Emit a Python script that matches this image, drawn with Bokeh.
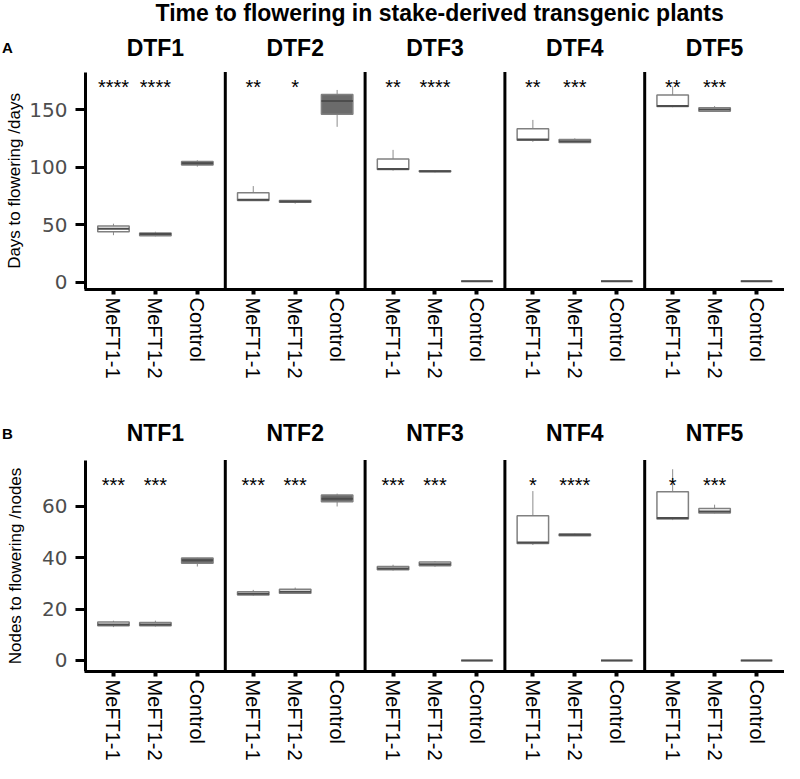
from bokeh.plotting import figure
from bokeh.models import ColumnDataSource, FixedTicker, Range1d
from bokeh.layouts import column
from bokeh.embed import file_html
from bokeh.resources import INLINE
from bokeh.core.properties import value

# ---------------- data ----------------
groups = ["MeFT1-1", "MeFT1-2", "Control"]

dtf_panels = ["DTF1", "DTF2", "DTF3", "DTF4", "DTF5"]
dtf_lower = [[41, 40, 100.5], [71, 68.4, 135], [97, 95.5, 1], [122, 121, 1], [152, 148, 1]]
dtf_q1 = [[44, 40.5, 102], [71.2, 69.5, 146], [98, 96, 1], [123.3, 121.5, 1], [152.6, 148.5, 1]]
dtf_median = [[46.5, 42, 103.4], [71.8, 70.3, 157.5], [98.5, 96.5, 1], [124, 122.5, 1], [153, 150, 1]]
dtf_q3 = [[49, 43, 104.9], [77.8, 71, 163], [107, 97, 1], [133.4, 124, 1], [162.6, 151.5, 1]]
dtf_upper = [[51, 44, 106], [83.6, 71.5, 167], [115, 97.5, 1], [141, 125, 1], [170, 153, 1]]
dtf_stars = [["****", "****"], ["**", "*"], ["**", "****"], ["**", "***"], ["**", "***"]]
dtf_yticks = [0, 50, 100, 150]

ntf_panels = ["NTF1", "NTF2", "NTF3", "NTF4", "NTF5"]
ntf_lower = [[13, 13.2, 36.6], [25.2, 26, 60], [35, 36.5, 0], [45, 48.5, 0], [54.7, 57.3, 0]]
ntf_q1 = [[13.5, 13.5, 37.9], [25.5, 26.2, 61.8], [35.3, 36.9, 0], [45.6, 48.6, 0], [55.1, 57.5, 0]]
ntf_median = [[14, 14, 39], [26, 26.8, 63], [35.8, 37.5, 0], [46, 49, 0], [55.5, 58, 0]]
ntf_q3 = [[15, 14.8, 39.9], [26.8, 27.7, 64.5], [36.6, 38.4, 0], [56.4, 49.3, 0], [65.7, 59.2, 0]]
ntf_upper = [[15.5, 15.5, 40], [27.5, 28.4, 65], [37.3, 38.7, 0], [66, 49.5, 0], [74.5, 60.7, 0]]
ntf_stars = [["***", "***"], ["***", "***"], ["***", "***"], ["*", "****"], ["*", "***"]]
ntf_yticks = [0, 20, 40, 60]

# ---------------- layout constants ----------------
PANEL_W = 10
TICK_OFF = [2, 5, 8]
BOX_W = 2.25
FILLS = ["white", "white", "#6b6b6b"]
FONT = "Liberation Sans"
X_START = -6.08      # room on the left (inside the frame) for the y axis
LETTER_X = -5.58


def make_row(panels, lower, q1, med, q3, upper, stars, yticks, ylabel, letter,
             height, top, yr, sep_top, title_y, star_y, label_standoff, title=None):
    p = figure(width=784, height=height, output_backend="svg", toolbar_location=None,
               min_border_left=0, min_border_right=0, min_border_top=top,
               min_border_bottom=0, x_range=Range1d(X_START, 5 * PANEL_W),
               y_range=Range1d(*yr), title=title)
    p.outline_line_color = None
    p.xgrid.visible = False
    p.ygrid.visible = False
    p.background_fill_color = "white"
    p.border_fill_color = "white"
    if title:
        p.title.align = "left"
        p.title.offset = 155
        p.title.text_font = FONT
        p.title.text_font_size = "23px"
        p.title.text_font_style = "bold"
        p.title.text_color = "black"
        p.title.standoff = -6

    xs, los, q1s, meds, q3s, ups, fills = [], [], [], [], [], [], []
    for i in range(len(panels)):
        for j in range(len(groups)):
            xs.append(PANEL_W * i + TICK_OFF[j])
            los.append(lower[i][j]); q1s.append(q1[i][j]); meds.append(med[i][j])
            q3s.append(q3[i][j]); ups.append(upper[i][j]); fills.append(FILLS[j])
    src = ColumnDataSource(dict(x=xs, lo=los, q1=q1s, med=meds, q3=q3s, up=ups, fill=fills,
                                xl=[x - BOX_W / 2 for x in xs], xr=[x + BOX_W / 2 for x in xs]))
    p.segment("x", "lo", "x", "q1", source=src, line_color="#8c8c8c", line_width=1)
    p.segment("x", "q3", "x", "up", source=src, line_color="#8c8c8c", line_width=1)
    p.vbar(x="x", width=BOX_W, bottom="q1", top="q3", source=src, fill_color="fill",
           line_color="#808080", line_width=1.5)
    p.segment("xl", "med", "xr", "med", source=src, line_color="#4d4d4d", line_width=2)

    # panel separators (the first one is the y axis line itself)
    sx = [PANEL_W * i for i in range(1, len(panels))]
    p.segment(x0=sx, y0=[yr[0]] * len(sx), x1=sx, y1=[sep_top] * len(sx),
              line_color="black", line_width=3)

    # panel titles and the panel letter
    p.text(x=[PANEL_W * i + 5 for i in range(len(panels))], y=[title_y] * len(panels),
           text=panels, text_align="center", text_baseline="middle",
           text_font=value(FONT), text_font_size="23px", text_font_style="bold",
           text_color="black")
    p.text(x=[LETTER_X], y=[title_y], text=[letter], text_align="center",
           text_baseline="middle", text_font=value(FONT), text_font_size="15px",
           text_font_style="bold", text_color="black")

    # significance stars
    stx, sty, stt = [], [], []
    for i in range(len(panels)):
        for j in range(2):
            stx.append(PANEL_W * i + TICK_OFF[j]); sty.append(star_y); stt.append(stars[i][j])
    p.text(x=stx, y=sty, text=stt, text_align="center", text_baseline="alphabetic",
           text_font=value(FONT), text_font_size="20px", text_color="black")

    # x axis
    xa = p.xaxis[0]
    xa.bounds = (-0.1, 5 * PANEL_W)
    xa.ticker = FixedTicker(ticks=xs)
    xa.major_label_overrides = {x: groups[k % 3] for k, x in enumerate(xs)}
    xa.major_label_orientation = "vertical"
    xa.major_label_text_font = FONT
    xa.major_label_text_font_size = "20px"
    xa.major_label_text_color = "black"
    xa.major_label_standoff = 3
    xa.major_tick_in = 0
    xa.major_tick_out = 5
    xa.major_tick_line_width = 4
    xa.major_tick_line_color = "black"
    xa.minor_tick_line_color = None
    xa.axis_line_width = 3
    xa.axis_line_color = "black"

    # y axis, drawn at x = 0 inside the frame
    ya = p.yaxis[0]
    ya.fixed_location = 0
    ya.bounds = (yr[0], sep_top)
    ya.ticker = FixedTicker(ticks=yticks)
    ya.axis_line_color = "black"
    ya.axis_line_width = 3
    ya.major_tick_in = 0
    ya.major_tick_out = 10
    ya.major_tick_line_width = 3
    ya.major_tick_line_color = "black"
    ya.minor_tick_line_color = None
    ya.major_label_text_font = "DejaVu Sans"
    ya.major_label_text_font_size = "20px"
    ya.major_label_text_color = "#4d4d4d"
    ya.major_label_standoff = 8
    ya.axis_label = ylabel
    ya.axis_label_text_font = FONT
    ya.axis_label_text_font_size = "17px"
    ya.axis_label_text_font_style = "normal"
    ya.axis_label_text_color = "black"
    ya.axis_label_standoff = label_standoff
    return p


pA = make_row(dtf_panels, dtf_lower, dtf_q1, dtf_median, dtf_q3, dtf_upper, dtf_stars,
              dtf_yticks, "Days to flowering /days", "A",
              height=381, top=0, yr=(-6.1, 225.5), sep_top=182.5,
              title_y=203.5, star_y=169.3, label_standoff=2,
              title="Time to flowering in stake-derived transgenic plants")
pB = make_row(ntf_panels, ntf_lower, ntf_q1, ntf_median, ntf_q3, ntf_upper, ntf_stars,
              ntf_yticks, "Nodes to flowering /nodes", "B",
              height=382, top=20, yr=(-4.3, 100.9), sep_top=78.1,
              title_y=88.5, star_y=68.3, label_standoff=14)

layout = column(pA, pB)
open("out.html", "w").write(file_html(layout, INLINE))
